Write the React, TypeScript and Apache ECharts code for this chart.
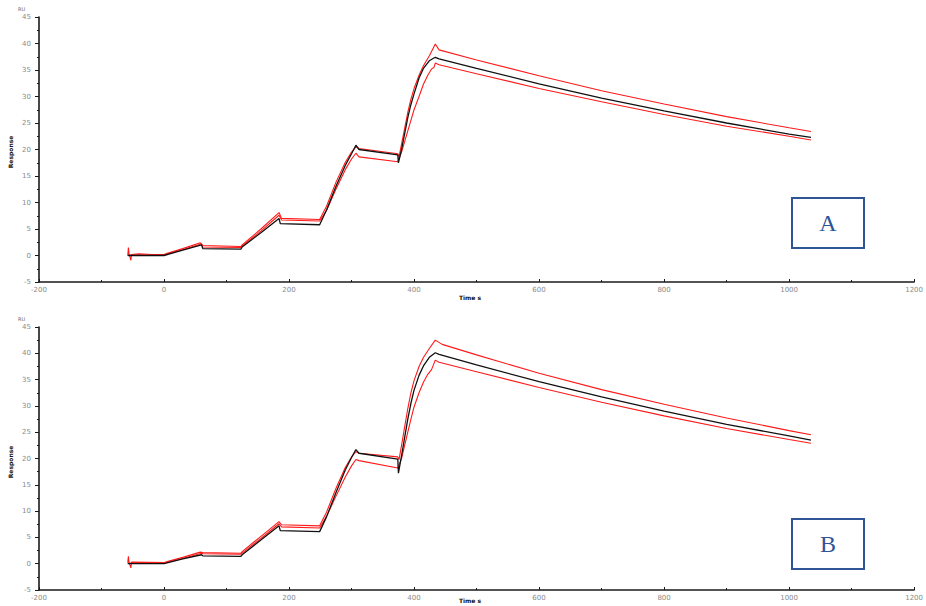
import React, { useEffect, useRef } from "react";
import * as echarts from "echarts";

// Panel A (top)
const topFit: number[][] = [[-58,0],[0,0],[30,1.0],[60,2.0],[62,1.3],[123,1.2],[125,1.6],[155,4.3],[184,7.0],[186,6.0],[249,5.8],[260,8.6],[275,13.0],[290,17.0],[300,19.2],[307,20.8],[312,20.0],[374,19.0],[375,17.5],[380,20.0],[385,23.0],[390,26.0],[395,28.5],[400,30.5],[408,33.5],[415,35.3],[425,36.8],[434,37.4],[440,37.1],[500,35.3],[600,32.4],[700,29.7],[800,27.3],[900,25.0],[1000,22.9],[1035,22.3]];
const topRedHigh: number[][] = [[-58,0],[-57,1.5],[-56,0.4],[-53,-0.9],[-52,0.2],[-40,0.3],[-20,0.2],[0,0.2],[5,0.4],[30,1.3],[58,2.4],[62,1.9],[123,1.7],[125,2.0],[155,5.0],[184,8.1],[188,7.0],[249,6.8],[260,9.3],[275,13.8],[290,17.6],[300,19.5],[307,20.5],[312,20.2],[374,19.2],[376,18.6],[380,21.0],[385,24.0],[390,27.0],[395,29.5],[400,31.5],[408,34.0],[415,35.8],[425,37.8],[434,39.9],[440,38.8],[500,36.9],[600,33.9],[700,31.1],[800,28.6],[900,26.2],[1000,24.1],[1035,23.4]];
const topRedLow: number[][] = [[-58,0.1],[-50,0.1],[0,0.1],[30,1.1],[60,2.2],[62,1.6],[123,1.5],[125,1.8],[155,4.6],[184,7.6],[188,6.7],[249,6.5],[260,8.5],[275,12.5],[290,16.2],[300,18.2],[307,19.3],[312,18.6],[374,17.7],[380,19.5],[385,21.5],[390,23.5],[395,25.5],[400,27.5],[408,30.0],[415,32.3],[422,34.0],[428,35.2],[432,35.5],[434,36.3],[440,36.0],[500,34.3],[600,31.5],[700,29.0],[800,26.6],[900,24.4],[1000,22.5],[1035,21.8]];

// Panel B (bottom)
const botFit: number[][] = [[-58,0],[0,0],[30,0.9],[60,1.7],[62,1.5],[123,1.4],[125,1.7],[155,4.5],[184,7.2],[186,6.3],[249,6.1],[260,8.9],[275,13.5],[290,17.8],[300,20.2],[307,21.7],[312,21.0],[374,19.9],[375,17.2],[380,20.5],[385,24.0],[390,27.5],[395,30.5],[400,33.0],[408,35.8],[415,37.6],[425,39.3],[434,40.1],[440,39.8],[500,37.8],[600,34.6],[700,31.7],[800,29.0],[900,26.5],[1000,24.3],[1035,23.5]];
const botRedHigh: number[][] = [[-58,0.2],[-57,1.4],[-56,0.3],[-53,-0.8],[-52,0.3],[0,0.2],[5,0.4],[30,1.2],[58,2.2],[62,2.1],[123,2.0],[125,2.3],[155,5.2],[184,8.0],[188,7.4],[249,7.2],[260,9.8],[275,14.3],[290,18.3],[300,20.3],[307,21.3],[312,21.0],[374,20.3],[376,19.8],[380,22.5],[385,26.0],[390,29.5],[395,32.5],[400,34.8],[408,37.5],[415,39.2],[425,41.0],[434,42.5],[445,41.7],[500,39.7],[600,36.2],[700,33.1],[800,30.3],[900,27.7],[1000,25.3],[1035,24.5]];
const botRedLow: number[][] = [[-58,0.1],[0,0.1],[30,1.0],[60,2.0],[62,1.9],[123,1.8],[125,2.0],[155,4.8],[184,7.6],[188,7.0],[249,6.8],[260,9.0],[275,12.8],[290,16.5],[300,18.6],[307,19.8],[312,19.6],[374,18.2],[380,20.0],[385,22.5],[390,25.0],[395,27.5],[400,29.8],[408,32.5],[415,34.5],[422,36.0],[428,36.9],[434,38.7],[440,38.3],[500,36.5],[600,33.5],[700,30.7],[800,28.1],[900,25.7],[1000,23.6],[1035,22.9]];

const panelLabels = ["A", "B"];
const xTitle = "Time s";
const yTitle = "Response";
const yUnit = "RU";

export default function App() {
  const ref = useRef<HTMLDivElement>(null);
  useEffect(() => {
    if (!ref.current) return;
    const chart = echarts.init(ref.current, null, { renderer: "svg" });
    const axisColor = "#1a1a1a";
    const labelColor = "#8a8a8a";
    const mkX = (gi: number) => ({
      type: "value", gridIndex: gi, min: -200, max: 1200, interval: 200,
      axisLine: { onZero: false, lineStyle: { color: axisColor, width: 1.6 } },
      axisTick: { inside: true, length: 3, lineStyle: { color: axisColor } },
      minorTick: { show: true, splitNumber: 2, length: 2, lineStyle: { color: axisColor } },
      splitLine: { show: false },
      axisLabel: { fontSize: 7, color: labelColor, margin: 4, fontFamily: "DejaVu Sans",
        formatter: (v: number) => String(v) },
    });
    const mkY = (gi: number) => ({
      type: "value", gridIndex: gi, min: -5, max: 45, interval: 5,
      axisLine: { show: true, onZero: false, lineStyle: { color: axisColor, width: 1.6 } },
      axisTick: { show: true, length: 4, lineStyle: { color: axisColor } },
      minorTick: { show: true, splitNumber: 2, length: 2, lineStyle: { color: axisColor } },
      splitLine: { show: false },
      axisLabel: { fontSize: 7, color: labelColor, margin: 8, fontFamily: "DejaVu Sans",
        formatter: (v: number) => String(v) },
    });
    const line = (data: number[][], idx: number, color: string, w: number, z: number) => ({
      type: "line", xAxisIndex: idx, yAxisIndex: idx, data, showSymbol: false,
      symbol: "none", lineStyle: { color, width: w }, z,
    });
    const boxes = [
      { y: 198, label: panelLabels[0] },
      { y: 519, label: panelLabels[1] },
    ];
    const graphic: any[] = [];
    boxes.forEach((b) => {
      graphic.push({ type: "rect", shape: { x: 792, y: b.y, width: 72, height: 50 },
        style: { fill: "#fff", stroke: "#2F5597", lineWidth: 2 }, z: 100 });
      graphic.push({ type: "text", x: 828, y: b.y + 25, z: 101,
        style: { text: b.label, fontFamily: "Liberation Serif", fontSize: 24, fill: "#2F5597",
          align: "center", verticalAlign: "middle" } });
    });
    [0, 310].forEach((off) => {
      graphic.push({ type: "text", x: 18, y: 9 + off, style: { text: yUnit, fontSize: 5, fill: "#666",
        fontFamily: "DejaVu Sans", verticalAlign: "middle" } });
      graphic.push({ type: "text", x: 10, y: 152 + off, rotation: Math.PI / 2,
        style: { text: yTitle, fontSize: 6, fontWeight: "bold", fill: "#111",
          fontFamily: "DejaVu Sans", align: "center", verticalAlign: "middle" } });
      graphic.push({ type: "text", x: 470, y: (off ? 600 : 297), style: { text: xTitle, fontSize: 6,
        fontWeight: "bold", fill: "#111", fontFamily: "DejaVu Sans", align: "center", verticalAlign: "middle" } });
    });
    chart.setOption({
      animation: false,
      backgroundColor: "#fff",
      grid: [
        { left: 39, right: 3, top: 17, height: 265 },
        { left: 39, right: 3, top: 327, height: 263 },
      ],
      xAxis: [mkX(0), mkX(1)],
      yAxis: [mkY(0), mkY(1)],
      series: [
        line(topRedHigh, 0, "#ff1a1a", 1.1, 2),
        line(topRedLow, 0, "#ff1a1a", 1.1, 2),
        line(topFit, 0, "#111", 1.3, 3),
        line(botRedHigh, 1, "#ff1a1a", 1.1, 2),
        line(botRedLow, 1, "#ff1a1a", 1.1, 2),
        line(botFit, 1, "#111", 1.3, 3),
      ],
      graphic,
    });
    return () => chart.dispose();
  }, []);
  return <div ref={ref} style={{ position: "absolute", left: 0, top: 0, width: 926, height: 606 }} />;
}
